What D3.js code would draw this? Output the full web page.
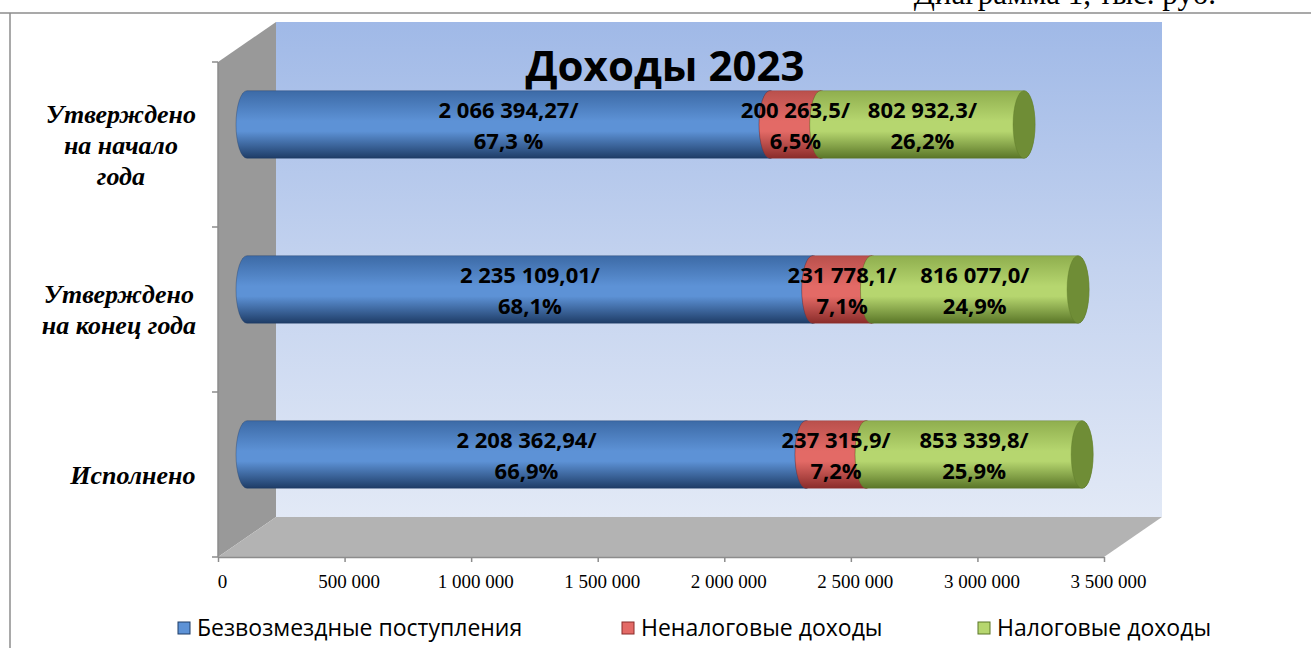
<!DOCTYPE html>
<html>
<head>
<meta charset="utf-8">
<script src="https://cdn.jsdelivr.net/npm/d3@7"></script>
<style>
  body { margin: 0; background: #fff; }
  svg { display: block; }
</style>
</head>
<body>
<div id="chart"></div>
<script>
// data
const categories = ["Утверждено на начало года", "Утверждено на конец года", "Исполнено"];
const categoryLines = [["Утверждено", "на начало", "года"], ["Утверждено", "на конец года"], ["Исполнено"]];
const seriesNames = ["Безвозмездные поступления", "Неналоговые доходы", "Налоговые доходы"];
const bezvozmezdnye = [2066394.27, 2235109.01, 2208362.94];
const nenalogovye = [200263.5, 231778.1, 237315.9];
const nalogovye = [802932.3, 816077.0, 853339.8];
const bezvozmezdnyeLabels = [["2 066 394,27/", "67,3 %"], ["2 235 109,01/", "68,1%"], ["2 208 362,94/", "66,9%"]];
const nenalogovyeLabels = [["200 263,5/", "6,5%"], ["231 778,1/", "7,1%"], ["237 315,9/", "7,2%"]];
const nalogovyeLabels = [["802 932,3/", "26,2%"], ["816 077,0/", "24,9%"], ["853 339,8/", "25,9%"]];
const tickValues = [0, 500000, 1000000, 1500000, 2000000, 2500000, 3000000, 3500000];

window.onload = function(){
    var width = 1311, height = 648;
    var svg = d3.select("#chart").append("svg")
                .attr("width", width)
                .attr("height", height);

    var locale = d3.formatLocale({decimal: ",", thousands: " ", grouping: [3], currency: ["", ""]});
    var fmt = locale.format(",d");

    // scales
    var x = d3.scaleLinear().domain([0, 3500000]).range([218, 1104]);
    var y = d3.scaleBand().domain(categories).range([62, 557]);
    var depthX = 58, depthY = -40;

    var series = [
        {name: seriesNames[0], values: bezvozmezdnye, labels: bezvozmezdnyeLabels,
         c: ["#3c6aa6", "#5d92d6", "#1e3c66"], cap: "#3b6396"},
        {name: seriesNames[1], values: nenalogovye, labels: nenalogovyeLabels,
         c: ["#b9504c", "#e36a66", "#8a2c2a"], cap: "#a8423f"},
        {name: seriesNames[2], values: nalogovye, labels: nalogovyeLabels,
         c: ["#8fae4e", "#b6d66f", "#5a7628"], cap: "#6f8d36"}
    ];

    var defs = svg.append("defs");
    function vgrad(id, stops){
        var g = defs.append("linearGradient").attr("id", id)
                    .attr("x1", 0).attr("y1", 0).attr("x2", 0).attr("y2", 1);
        stops.forEach(function(s){
            g.append("stop").attr("offset", s[0]).attr("stop-color", s[1]);
        });
    }
    vgrad("wall", [[0, "#a0b9e7"], [0.5, "#c4d3ef"], [1, "#e2e9f6"]]);
    series.forEach(function(s, i){
        vgrad("cyl" + i, [[0, s.c[0]], [0.45, s.c[1]], [0.6, s.c[1]], [1, s.c[2]]]);
    });

    // frame
    svg.append("line").attr("x1", 0).attr("x2", width).attr("y1", 13).attr("y2", 13)
       .style("stroke", "#8c8c8c").style("stroke-width", 1.5);
    svg.append("line").attr("x1", 10).attr("x2", 10).attr("y1", 13).attr("y2", height)
       .style("stroke", "#8c8c8c").style("stroke-width", 1.5);

    // caption above the frame, cut by the top of the page as in the source
    svg.append("text")
       .attr("x", 1216).attr("y", 4)
       .attr("text-anchor", "end")
       .style("font-family", "'Liberation Serif', 'Times New Roman', serif")
       .style("font-size", "31px")
       .text("Диаграмма 1, тыс. руб.");

    var x0 = x(0), x1 = x(3500000), yTop = y.range()[0], yBot = y.range()[1];

    // back wall
    svg.append("rect")
       .attr("x", x0 + depthX).attr("y", yTop + depthY)
       .attr("width", x1 - x0).attr("height", yBot - yTop)
       .style("fill", "url(#wall)");

    // side wall
    svg.append("path")
       .attr("d", "M" + x0 + "," + yTop + "L" + (x0 + depthX) + "," + (yTop + depthY) +
                  "L" + (x0 + depthX) + "," + (yBot + depthY) + "L" + x0 + "," + yBot + "Z")
       .style("fill", "#999999");

    // floor
    svg.append("path")
       .attr("d", "M" + x0 + "," + yBot + "L" + (x0 + depthX) + "," + (yBot + depthY) +
                  "L" + (x1 + depthX) + "," + (yBot + depthY) + "L" + x1 + "," + yBot + "Z")
       .style("fill", "#b3b3b3");

    // axes
    var xAxis = d3.axisBottom(x).tickValues(tickValues).tickFormat(fmt).tickSize(5).tickSizeOuter(0);
    var gx = svg.append("g").attr("transform", "translate(0," + yBot + ")").call(xAxis);
    gx.select(".domain").style("stroke", "#8c8c8c").style("stroke-width", 1.5);
    gx.selectAll(".tick line").style("stroke", "#8c8c8c").style("stroke-width", 1.5);
    gx.selectAll(".tick text")
      .attr("y", 18)
      .attr("dx", 4)
      .style("font-family", "'Liberation Serif', 'Times New Roman', serif")
      .style("font-size", "19px")
      .style("fill", "#000");

    svg.append("line").attr("x1", x0).attr("x2", x0).attr("y1", yTop).attr("y2", yBot)
       .style("stroke", "#8c8c8c").style("stroke-width", 1.5);
    var bounds = categories.map(function(c){ return y(c); }).concat([yBot]);
    svg.selectAll(".ytick").data(bounds).enter().append("line")
       .attr("x1", x0 - 6).attr("x2", x0)
       .attr("y1", function(d){ return d; }).attr("y2", function(d){ return d; })
       .style("stroke", "#8c8c8c").style("stroke-width", 1.5);

    // category labels
    categories.forEach(function(c, i){
        var lines = categoryLines[i];
        var lh = 31;
        var cy = y(c) + y.bandwidth() / 2;
        var t = svg.append("text")
                   .attr("text-anchor", "middle")
                   .style("font-family", "'Liberation Serif', 'Times New Roman', serif")
                   .style("font-size", "26px")
                   .style("font-weight", "bold")
                   .style("font-style", "italic");
        lines.forEach(function(l, j){
            t.append("tspan").attr("x", 0)
             .attr("y", cy + (j - (lines.length - 1) / 2) * lh + 9)
             .text(l);
        });
        var w = t.node().getBBox().width;
        t.attr("transform", "translate(" + (196 - w / 2) + ",0)");
    });

    // cylinders
    var ry = y.bandwidth() * 0.41 / 2, rx = 11;
    var gBars = svg.append("g");
    categories.forEach(function(c, i){
        var cy = y(c) + y.bandwidth() / 2 + depthY / 2;
        var start = 0;
        series.forEach(function(s, k){
            var a = x(start) + depthX / 2;
            var b = x(start + s.values[i]) + depthX / 2;
            start += s.values[i];
            gBars.append("path")
                 .attr("d", "M" + a + "," + (cy - ry) + "L" + b + "," + (cy - ry) +
                            "A" + rx + "," + ry + " 0 0 1 " + b + "," + (cy + ry) +
                            "L" + a + "," + (cy + ry) +
                            "A" + rx + "," + ry + " 0 0 1 " + a + "," + (cy - ry) + "Z")
                 .style("fill", "url(#cyl" + k + ")")
                 .style("stroke", s.c[2]).style("stroke-width", 0.6).style("stroke-opacity", 0.6);
            gBars.append("ellipse")
                 .attr("cx", b).attr("cy", cy).attr("rx", rx).attr("ry", ry)
                 .style("fill", s.cap)
                 .style("stroke", s.c[2]).style("stroke-width", 0.6).style("stroke-opacity", 0.6);
        });
    });

    // value labels
    categories.forEach(function(c, i){
        var cy = y(c) + y.bandwidth() / 2 + depthY / 2;
        var start = 0;
        series.forEach(function(s, k){
            var mid = x(start + s.values[i] / 2) + depthX / 2;
            start += s.values[i];
            var t = svg.append("text")
                       .attr("text-anchor", "middle")
                       .style("font-family", "'Open Sans', sans-serif")
                       .style("font-size", "22px")
                       .style("font-weight", "bold")
                       .style("fill", "#000");
            t.append("tspan").attr("x", mid).attr("y", cy - 7).text(s.labels[i][0]);
            t.append("tspan").attr("x", mid).attr("y", cy + 24).text(s.labels[i][1]);
        });
    });

    // title
    svg.append("text")
       .attr("x", 665).attr("y", 81)
       .attr("text-anchor", "middle")
       .style("font-family", "'Open Sans', sans-serif")
       .style("font-size", "42px")
       .style("font-weight", "bold")
       .text("Доходы 2023");

    // legend
    var legendX = [178, 622, 978];
    var lg = svg.selectAll(".legend").data(series).enter().append("g")
                .attr("transform", function(d, i){ return "translate(" + legendX[i] + ",622)"; });
    lg.append("rect").attr("width", 12).attr("height", 12)
      .style("fill", function(d){ return d.c[1]; })
      .style("stroke", function(d){ return d.c[2]; });
    lg.append("text").attr("x", 19).attr("y", 14)
      .style("font-family", "'Open Sans', sans-serif")
      .style("font-size", "23px")
      .text(function(d){ return d.name; });
};
</script>
</body>
</html>
